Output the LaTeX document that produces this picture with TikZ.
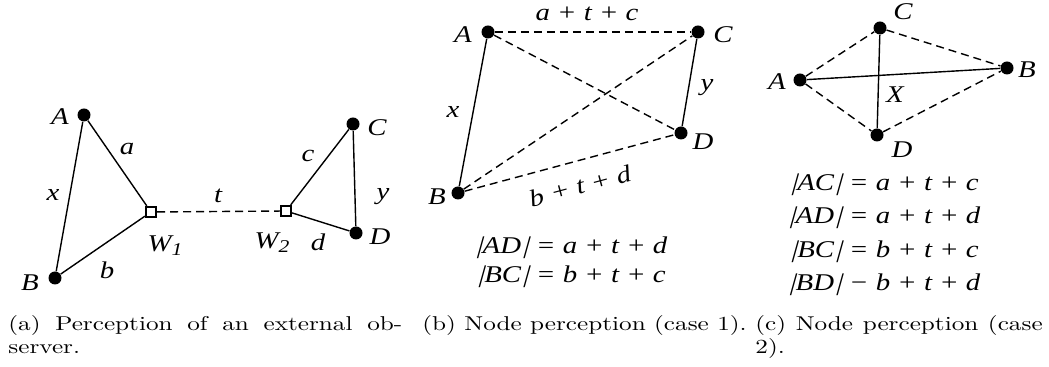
\documentclass[tikz,border=0pt]{standalone}
\usepackage{graphicx}
\usepackage{fontspec}
\newfontfamily\tnr[FakeStretch=1.2]{Liberation Serif}
\newfontfamily\tnrsl[FakeStretch=1.2,FakeSlant=0.28]{Liberation Serif}
\newcommand{\lblfont}{\tnr\itshape\fontsize{12}{14}\selectfont}
\newcommand{\sbar}{{\tnrsl|}}
\newcommand{\sub}[1]{\raisebox{-0.35ex}{\fontsize{9}{9}\selectfont #1}}
\newcommand{\capbox}[2]{\scalebox{1.26}[1]{\parbox[t]{#1}{\fontsize{10}{11.5}\selectfont #2}}}
\tikzset{
  dot/.style={circle,fill=black,inner sep=0pt,minimum size=6.5pt},
  wsq/.style={rectangle,draw=black,fill=white,line width=1.1pt,inner sep=0pt,minimum size=5pt},
  lbl/.style={font=\lblfont,inner sep=0pt},
  solidedge/.style={line width=0.7pt},
  dashedge/.style={line width=0.7pt,dash pattern=on 4pt off 2.5pt},
  capt/.style={inner sep=0pt}
}
\begin{document}
\begin{tikzpicture}[x=0.5pt,y=-0.5pt]
\useasboundingbox (0,0) rectangle (1049,367);
% ---------- panel (a)
\node[dot] (aA) at (84,115) {};
\node[dot] (aB) at (55,278) {};
\node[dot] (aC) at (353,124) {};
\node[dot] (aD) at (356,233) {};
\node[wsq] (aW1) at (151,212) {};
\node[wsq] (aW2) at (286,211) {};
\draw[solidedge] (aA) -- (aB);
\draw[solidedge] (aA) -- (aW1);
\draw[solidedge] (aB) -- (aW1);
\draw[solidedge] (aW2) -- (aC);
\draw[solidedge] (aW2) -- (aD);
\draw[solidedge] (aC) -- (aD);
\draw[dashedge] (aW1) -- (aW2);
\node[lbl] (laA) at (60,117) {A};
\node[lbl] (laB) at (30,283) {B};
\node[lbl] (laC) at (377,128) {C};
\node[lbl] (laD) at (380,237) {D};
\node[lbl] (laW1) at (165,246) {W\sub{1}};
\node[lbl] (laW2) at (272,243) {W\sub{2}};
\node[lbl] (laa) at (127,149) {a};
\node[lbl] (lax) at (53,195) {x};
\node[lbl] (lab) at (107,270) {b};
\node[lbl] (lat) at (218,196) {t};
\node[lbl] (lac) at (308,156) {c};
\node[lbl] (lay) at (383,197) {y};
\node[lbl] (lad) at (318,242) {d};
% ---------- panel (b)
\node[dot] (bA) at (488,32) {};
\node[dot] (bC) at (698,32) {};
\node[dot] (bD) at (681,133) {};
\node[dot] (bB) at (458,193) {};
\draw[solidedge] (bA) -- (bB);
\draw[solidedge] (bC) -- (bD);
\draw[dashedge] (bA) -- (bC);
\draw[dashedge] (bA) -- (bD);
\draw[dashedge] (bB) -- (bC);
\draw[dashedge] (bB) -- (bD);
\node[lbl] (lbA) at (463,35) {A};
\node[lbl] (lbC) at (723,35) {C};
\node[lbl] (lbD) at (703,142) {D};
\node[lbl] (lbB) at (437,197) {B};
\node[lbl] (lbx) at (453,112) {x};
\node[lbl] (lby) at (707,88) {y};
\node[lbl] (lbatc) at (587,14) {a + t + c};
\node[lbl,rotate=15] (lbbtd) at (580,186) {b + t + d};
\node[lbl] (lbeq1) at (571,248) {\sbar AD\sbar\ = a + t + d};
\node[lbl] (lbeq2) at (571,277) {\sbar BC\sbar\ = b + t + c};
% ---------- panel (c)
\node[dot] (cC) at (880,28) {};
\node[dot] (cA) at (800,80) {};
\node[dot] (cB) at (1007,68) {};
\node[dot] (cD) at (877,135) {};
\draw[solidedge] (cA) -- (cB);
\draw[solidedge] (cC) -- (cD);
\draw[dashedge] (cA) -- (cC);
\draw[dashedge] (cC) -- (cB);
\draw[dashedge] (cA) -- (cD);
\draw[dashedge] (cD) -- (cB);
\node[lbl] (lcC) at (903,12) {C};
\node[lbl] (lcA) at (777,82) {A};
\node[lbl] (lcB) at (1027,70) {B};
\node[lbl] (lcD) at (902,150) {D};
\node[lbl] (lcX) at (895,95) {X};
\node[lbl] (lceq1) at (884,185) {\sbar AC\sbar\ = a + t + c};
\node[lbl] (lceq2) at (884,218) {\sbar AD\sbar\ = a + t + d};
\node[lbl] (lceq3) at (884,252) {\sbar BC\sbar\ = b + t + c};
\node[lbl] (lceq4) at (884,285) {\sbar BD\sbar\ − b + t + d};
% ---------- captions
\node[capt,anchor=north west] (capa) at (8,315)
  {\capbox{156.3pt}{(a) Perception of an external ob-\linebreak server.}};
\node[capt,anchor=north west] (capb) at (422,315)
  {\capbox{130pt}{(b) Node perception (case 1).}};
\node[capt,anchor=north west] (capc) at (755,315)
  {\capbox{114pt}{(c) Node perception (case\linebreak 2).}};
\end{tikzpicture}
\end{document}
